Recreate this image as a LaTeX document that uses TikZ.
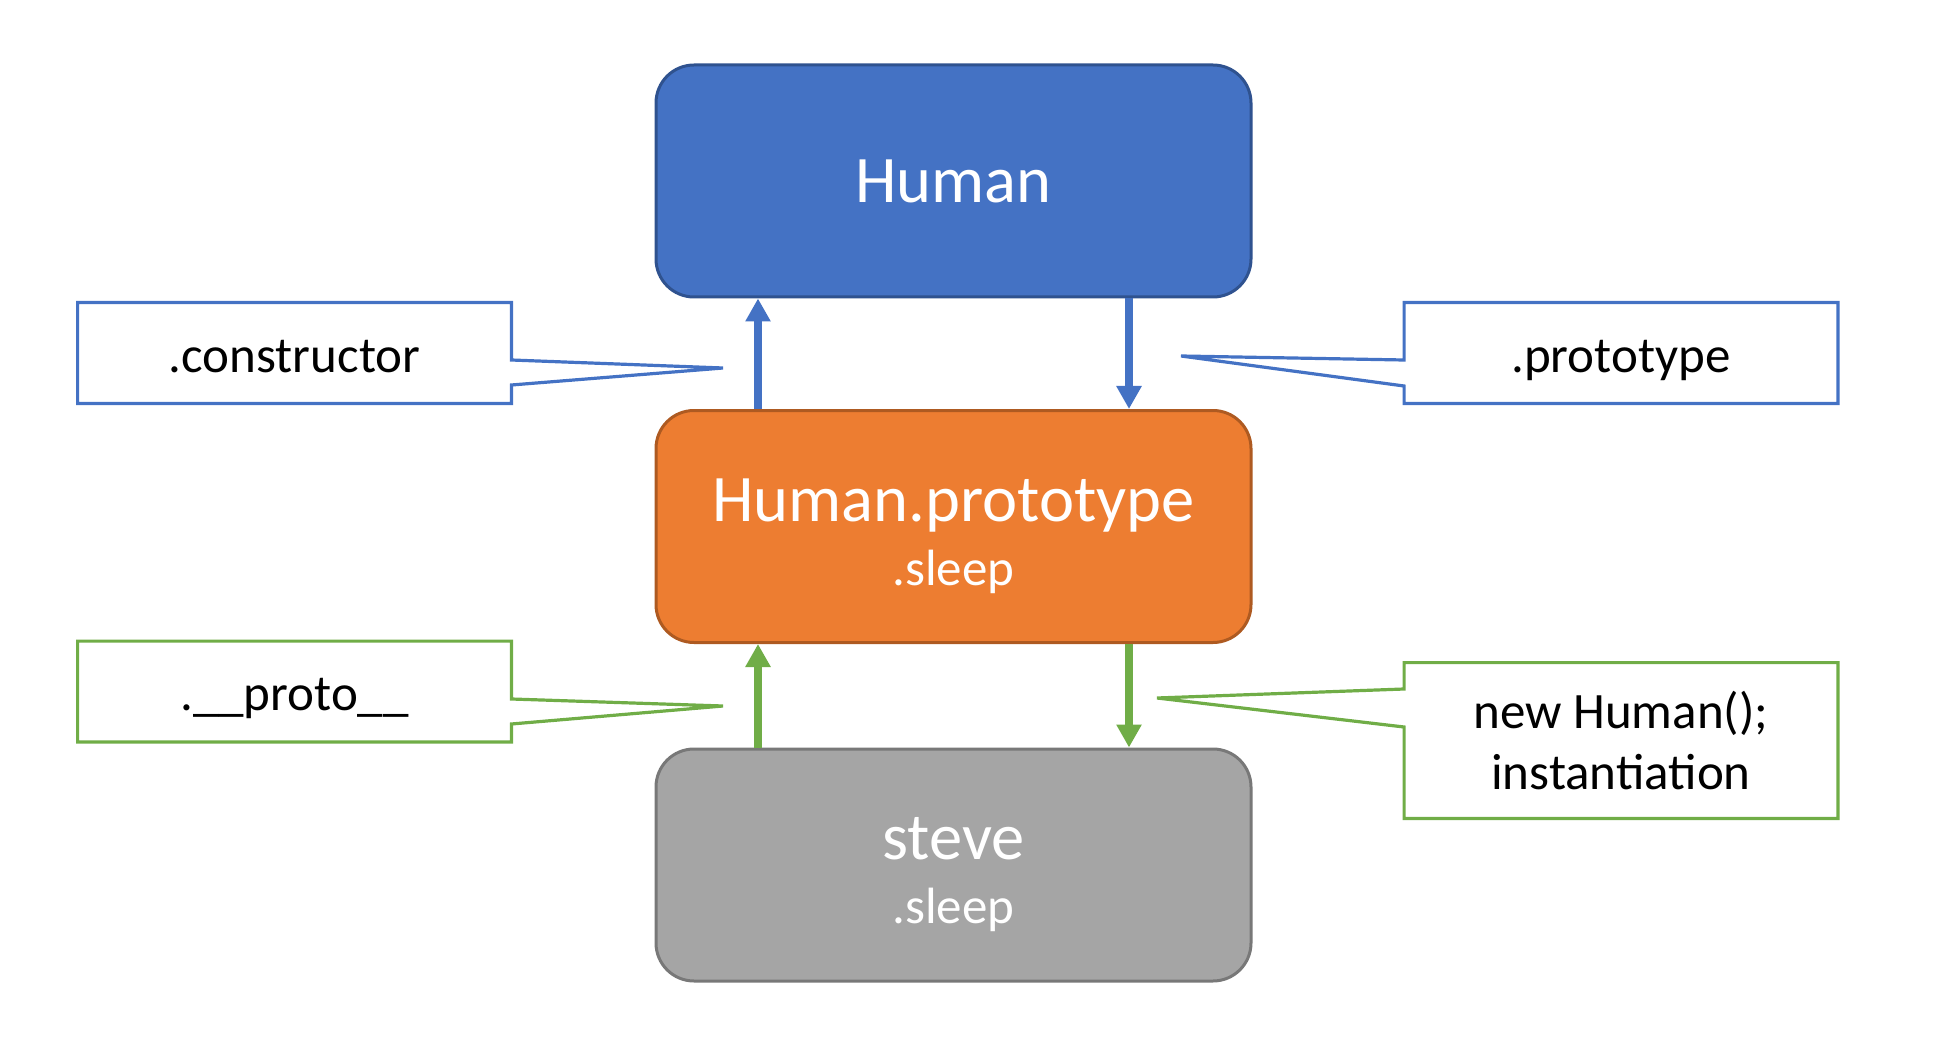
\documentclass[tikz,border=0pt]{standalone}
\usepackage{fontspec}
\setmainfont{Carlito}
\usetikzlibrary{arrows.meta}
\usetikzlibrary{positioning}
\definecolor{humanblue}{HTML}{4472C4}
\definecolor{humanborder}{HTML}{2F528F}
\definecolor{protoorange}{HTML}{ED7D31}
\definecolor{protoborder}{HTML}{AE5A21}
\definecolor{stevegray}{HTML}{A5A5A5}
\definecolor{steveborder}{HTML}{787878}
\definecolor{instgreen}{HTML}{70AD47}

\begin{document}
\begin{tikzpicture}[x=0.5pt,y=-0.5pt]
        \tikzset{obj_box/.style = {rounded corners=19pt,line width=1.5pt,minimum width=297.5pt,minimum height=116pt,text=white,align=center,font=\fontsize{33.25}{32}\selectfont}}
        \tikzset{note_box/.style = {minimum width=216.5pt,minimum height=50pt,align=center,font=\fontsize{25.5}{30.5}\selectfont}}
        \tikzset{one_line/.style = {text height=19pt,text depth=0pt}}
        \tikzset{note_line/.style = {line width=1.6pt,line join=miter}}
        \tikzset{blue_edge/.style = {-{Triangle[width=12pt,length=11.5pt]},line width=4pt,color=humanblue}}
        \tikzset{green_edge/.style = {-{Triangle[width=12pt,length=11.5pt]},line width=4pt,color=instgreen}}

        \useasboundingbox (0,0) rectangle (1950,1064);

        % objects
        \node[obj_box,fill=humanblue,draw=humanborder] (human) at (953.5,181) {Human};
        \node[obj_box,fill=protoorange,draw=protoborder] (proto) at (953.5,526.5) {\rule{0pt}{31pt}Human.prototype\\{\fontsize{25.5}{32}\selectfont .sleep}};
        \node[obj_box,fill=stevegray,draw=steveborder] (steve) at (953.5,865) {\rule{0pt}{31pt}steve\\{\fontsize{25.5}{32}\selectfont .sleep}};

        % links
        \draw[blue_edge] ([xshift=-97.75pt]proto.north) -- ([xshift=-97.75pt]human.south);
        \draw[blue_edge] ([xshift=87.75pt]human.south) -- ([xshift=87.75pt]proto.north);
        \draw[green_edge] ([xshift=-97.75pt]steve.north) -- ([xshift=-97.75pt]proto.south);
        \draw[green_edge] ([xshift=87.75pt]proto.south) -- ([xshift=87.75pt]steve.north);

        % callouts
        \node[note_box,one_line] (ctor) at (294.5,353) {.constructor};
        \node[note_box,one_line] (ptype) at (1621,353) {.prototype};
        \node[note_box,one_line] (dproto) at (294.5,691.5) {.\_\_proto\_\_};
        \node[note_box,minimum height=77.5pt] (newinst) at (1621,740.5) {new Human();\\instantiation};
        \coordinate (ctor_tip) at (723,368);
        \coordinate (ptype_tip) at (1181,356);
        \coordinate (dproto_tip) at (723,706);
        \coordinate (newinst_tip) at (1157,698);

        \draw[note_line,humanblue] (ctor.north west) -- (ctor.north east) -- ([yshift=-3.5pt]ctor.east) -- (ctor_tip) -- ([yshift=-16pt]ctor.east) -- (ctor.south east) -- (ctor.south west) -- cycle;
        \draw[note_line,humanblue] (ptype.north east) -- (ptype.north west) -- ([yshift=-3.5pt]ptype.west) -- (ptype_tip) -- ([yshift=-16.5pt]ptype.west) -- (ptype.south west) -- (ptype.south east) -- cycle;
        \draw[note_line,instgreen] (dproto.north west) -- (dproto.north east) -- ([yshift=-3.75pt]dproto.east) -- (dproto_tip) -- ([yshift=-16.25pt]dproto.east) -- (dproto.south east) -- (dproto.south west) -- cycle;
        \draw[note_line,instgreen] (newinst.north east) -- (newinst.north west) -- ([yshift=25.75pt]newinst.west) -- (newinst_tip) -- ([yshift=6.75pt]newinst.west) -- (newinst.south west) -- (newinst.south east) -- cycle;
\end{tikzpicture}
\end{document}
